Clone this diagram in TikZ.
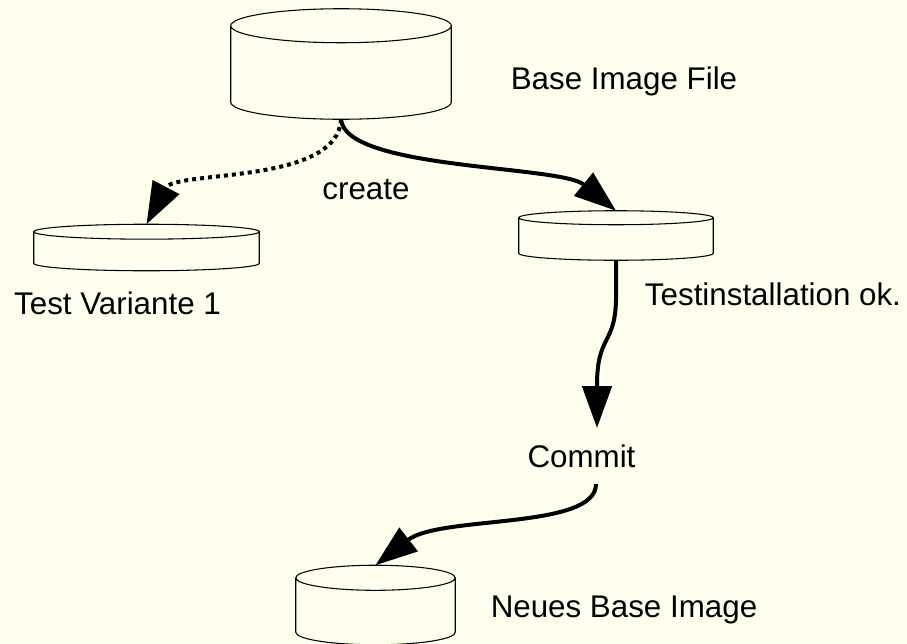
\documentclass[tikz,border=0pt]{standalone}
\usepackage{fontspec}
\setmainfont{Liberation Sans}
\usetikzlibrary{arrows.meta,calc}
\definecolor{paper}{HTML}{FFFFEE}

% cylinder drawn over an empty node: #1 node name, #2 y radius of the rims
\newcommand{\drawdisk}[2]{%
  \draw[disk] let \p1=(#1.north west), \p2=(#1.south east), \n1={(\x2-\x1)/2} in
    (\x1,\y2+#2) -- (\x1,\y1-#2) arc[start angle=180, end angle=0, x radius=\n1, y radius=#2]
    -- (\x2,\y2+#2) arc[start angle=0, end angle=-180, x radius=\n1, y radius=#2] -- cycle
    (\x1,\y1-#2) arc[start angle=180, end angle=360, x radius=\n1, y radius=#2];
}

\begin{document}
\begin{tikzpicture}[x=0.75pt, y=0.75pt,
  every node/.style={inner sep=0pt},
  box/.style={rectangle, draw=none},
  disk/.style={draw, line width=0.8pt, fill=paper},
  flow/.style={line width=3pt, -{Triangle[length=31.5pt, width=22pt]}},
  dots/.style={dash pattern=on 3pt off 3pt}]
\fill[paper] (0,0) rectangle (907,-643);
\useasboundingbox (0,0) rectangle (907,-643);

\node[box, minimum width=165pt, minimum height=82.5pt] (base) at (341,-64) {};
\node[box, minimum width=168.75pt, minimum height=34.5pt] (variant) at (146.5,-247.5) {};
\node[box, minimum width=145.5pt, minimum height=36.75pt] (test) at (616,-235.5) {};
\node[box, minimum width=119.25pt, minimum height=59.25pt] (neu) at (375.5,-605) {};

\drawdisk{base}{12.75pt}
\drawdisk{variant}{5.6pt}
\drawdisk{test}{5.25pt}
\drawdisk{neu}{9.4pt}

\fontsize{23.5}{28}\selectfont
\node[anchor=base] (baselbl) at (624,-89) {Base Image File};
\node[anchor=base] (create) at (366,-199) {create};
\node[anchor=base] (variantlbl) at (117.5,-314) {Test Variante 1};
\node[anchor=base] (testlbl) at (773,-305) {Testinstallation ok.};
\node[anchor=base] (commit) at (581.5,-467) {Commit};
\node[anchor=base] (neulbl) at (624,-617) {Neues Base Image};

\coordinate (commit-in) at (597,-428);
\coordinate (commit-out) at (596,-484);

\draw[flow, dots] (base.south) .. controls (338,-185) and (175,-170) .. (variant.north);
\draw[flow] (base.south) .. controls (345,-170) and (560,-165) .. (test.north);
\draw[flow] (test.south) -- (616,-300) .. controls (615,-345) and (597,-335) .. (597,-385) -- (commit-in);
\draw[flow] (commit-out) .. controls (596,-530) and (440,-515) .. (neu.north);

\end{tikzpicture}
\end{document}
